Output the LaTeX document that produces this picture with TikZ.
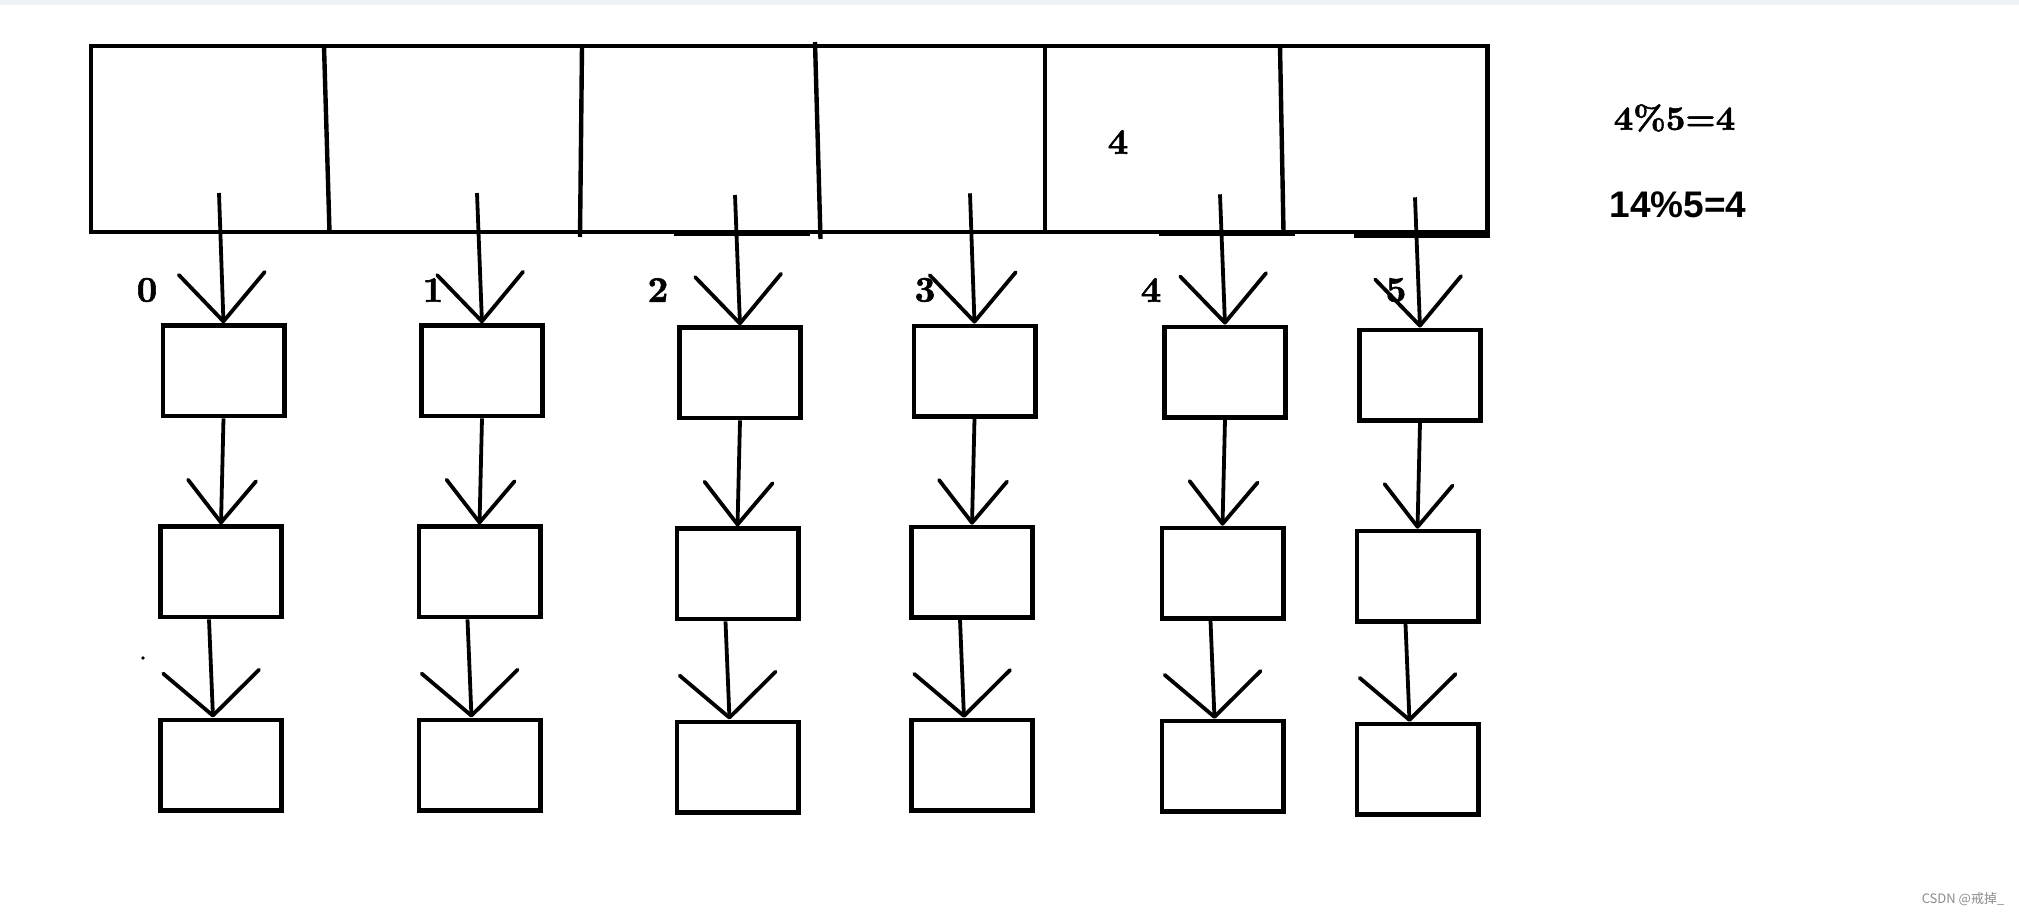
\documentclass[tikz,border=0pt]{standalone}
\usepackage{fontspec}
\newfontfamily\sansbold{Liberation Sans}
\newfontfamily\heavyserif{lmroman10-bold}[Extension=.otf,FakeBold=1.6]
\newfontfamily\cjk{Noto Sans CJK SC}
\usetikzlibrary{arrows.meta}
\definecolor{stripcol}{RGB}{236,242,245}
\definecolor{markgray}{RGB}{140,140,140}
\tikzset{
    entry/.style={draw,line width=2.3pt,minimum width=60.7pt,
        minimum height=45.2pt,inner sep=0pt},
    idx/.style={font=\fontsize{18}{21}\selectfont\heavyserif},
    toparrow/.style={line width=1.9pt,
        -{Straight Barb[length=24pt,width=43pt,round]}},
    midarrow/.style={line width=1.9pt,
        -{Straight Barb[length=21pt,width=34pt,round]}},
    lowarrow/.style={line width=1.9pt,
        -{Straight Barb[length=22pt,width=48pt,round]}}
}
\begin{document}
\begin{tikzpicture}[x=0.5pt,y=-0.5pt]
    \useasboundingbox (0,0) rectangle (2019,914);
    \fill[stripcol] (0,0) rectangle (2019,5);
    % bucket array
    \draw[line width=2.3pt] (91,46) rectangle (1487.5,232);
    \draw[line width=2.2pt] (324,46)--(329.5,232);
    \draw[line width=2.2pt] (582,46)--(580,237);
    \draw[line width=2.2pt] (815,42)--(820.5,239);
    \draw[line width=2.2pt] (1045,46)--(1045,232);
    \draw[line width=2.2pt] (1280,46)--(1283.5,232);
    \draw[line width=3pt] (674,233)--(810,233);
    \draw[line width=3pt] (1159,233)--(1295,233);
    \draw[line width=4pt] (1354,234)--(1489.5,234);
    \node[idx] (hit) at (1118,142) {4};
    % chains
    \foreach \i/\x/\d/\sx/\lx in {0/223.5/0/219/147,1/482/0/477/433,
            2/740/2/735/658,3/974.5/0.3/970/925,
            4/1225/1.3/1220/1151,5/1420/4.3/1415/1396}
    {
        \coordinate (s\i) at (\sx,{193+\d});
        \node[entry] (n\i1) at (\x,{370.8+\d}) {};
        \node[entry] (n\i2) at ({\x-2.5},{571.9+\d}) {};
        \node[entry] (n\i3) at ({\x-2.5},{765+\d}) {};
        \node[idx] (lab\i) at (\lx,290) {\i};
        \draw[toparrow] (s\i)--(n\i1.north);
        \draw[midarrow] (n\i1.south)--(n\i2.north);
        \draw[lowarrow] ([xshift=-6pt]n\i2.south)--([xshift=-4pt]n\i3.north);
    }
    \fill (143,658) circle (1.8);
    % hash
    \node[font=\fontsize{17}{20}\selectfont\heavyserif] (f1)
        at (1674.5,118) {4\%5=4};
    \node[font=\fontsize{18.5}{21}\selectfont\sansbold\bfseries] (f2)
        at (1678,204.5) {14\%5=4};
    \node[font=\fontsize{6.5}{8}\selectfont\cjk,text=markgray] (mark)
        at (1963,899) {CSDN @戒掉\_};
\end{tikzpicture}
\end{document}
